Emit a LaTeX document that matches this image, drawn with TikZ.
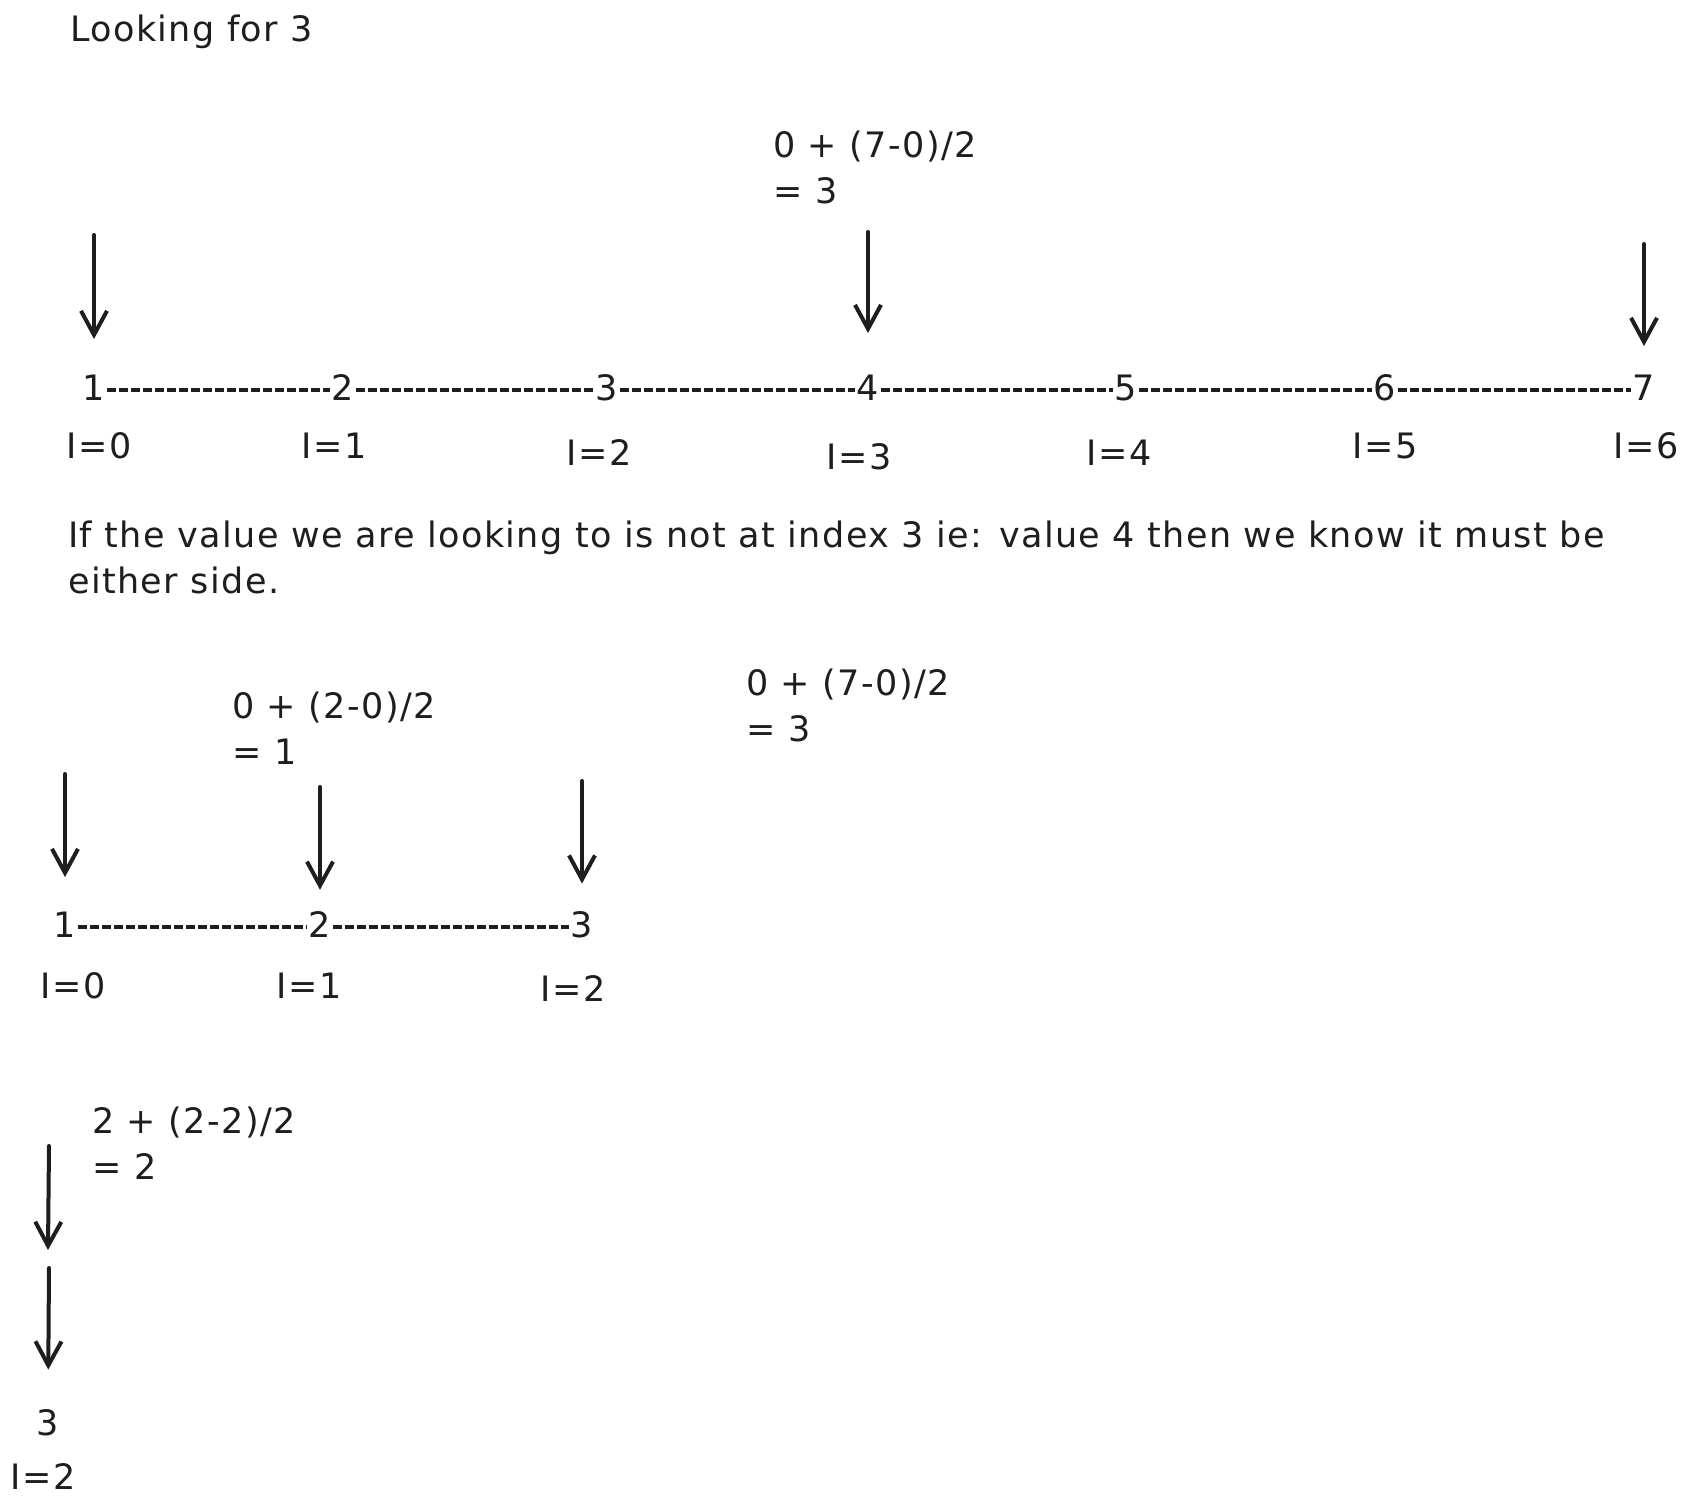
\documentclass[tikz,border=0pt]{standalone}
\usepackage{fontspec}
\setmainfont[LetterSpace=4]{DejaVu Sans}
\usetikzlibrary{arrows.meta}
\definecolor{ink}{HTML}{1E1E1E}
\begin{document}
\begin{tikzpicture}[x=1pt,y=-1pt,
  txt/.style={text=ink, inner sep=0pt, font=\fontsize{35}{46}\selectfont},
  lt/.style={txt, anchor=west, align=left},
  num/.style={txt},
  dashline/.style={draw=ink, line width=3.5pt, dash pattern=on 9pt off 3pt, shorten <=2pt, shorten >=2pt, transform canvas={yshift=-2pt}},
  ptr/.style={draw=ink, line width=4pt, line cap=round, -{Straight Barb[length=24pt,width=26pt]}},
]
\useasboundingbox[fill=white] (0,0) rectangle (1690,1511);

\node[lt] (title) at (70,32) {Looking for 3};
\node[lt] (f1) at (773,167) {0 + (7-0)/2\\= 3};

% first number line
\node[num] (a1) at (94,388) {1};
\node[num] (a2) at (343,388) {2};
\node[num] (a3) at (607,388) {3};
\node[num] (a4) at (868,388) {4};
\node[num] (a5) at (1126,388) {5};
\node[num] (a6) at (1385,388) {6};
\node[num] (a7) at (1644,388) {7};
\foreach \i/\j in {a1/a2,a2/a3,a3/a4,a4/a5,a5/a6,a6/a7} \draw[dashline] (\i) -- (\j);

\node[txt] (ia0) at (99,446) {I=0};
\node[txt] (ia1) at (334,446) {I=1};
\node[txt] (ia2) at (599,453) {I=2};
\node[txt] (ia3) at (859,457) {I=3};
\node[txt] (ia4) at (1119,453) {I=4};
\node[txt] (ia5) at (1385,446) {I=5};
\node[txt] (ia6) at (1646,446) {I=6};

\coordinate (p1) at (94,235);
\coordinate (p4) at (868,232);
\coordinate (p7) at (1644,244);
\draw[ptr, shorten >=36pt] (p1) -- (a1.north);
\draw[ptr, shorten >=42pt] (p4) -- (a4.north);
\draw[ptr, shorten >=29pt] (p7) -- (a7.north);

\node[lt] (para) at (68,557) {If the value we are looking to is not at index 3 ie: value 4 then we know it must be\\either side.};

\node[lt] (f2) at (232,728.5) {0 + (2-0)/2\\= 1};
\node[lt] (f3) at (746,705.5) {0 + (7-0)/2\\= 3};

% second number line
\node[num] (b1) at (65,925) {1};
\node[num] (b2) at (320,925) {2};
\node[num] (b3) at (582,925) {3};
\draw[dashline] (b1) -- (b2);
\draw[dashline] (b2) -- (b3);

\node[txt] (ib0) at (73,986) {I=0};
\node[txt] (ib1) at (309,986) {I=1};
\node[txt] (ib2) at (573,989) {I=2};

\coordinate (q1) at (65,774);
\coordinate (q2) at (320,787);
\coordinate (q3) at (582,781);
\draw[ptr, shorten >=35pt] (q1) -- (b1.north);
\draw[ptr, shorten >=22pt] (q2) -- (b2.north);
\draw[ptr, shorten >=28pt] (q3) -- (b3.north);

% third step
\node[lt] (f4) at (92,1143.5) {2 + (2-2)/2\\= 2};
\node[num] (c1) at (48,1423) {3};
\node[txt] (ic1) at (43,1477) {I=2};
\coordinate (r1) at (49,1146);
\coordinate (r2) at (48,1250);
\coordinate (r3) at (49,1268);
\draw[ptr] (r1) -- (r2);
\draw[ptr, shorten >=40pt] (r3) -- (c1.north);
\end{tikzpicture}
\end{document}
